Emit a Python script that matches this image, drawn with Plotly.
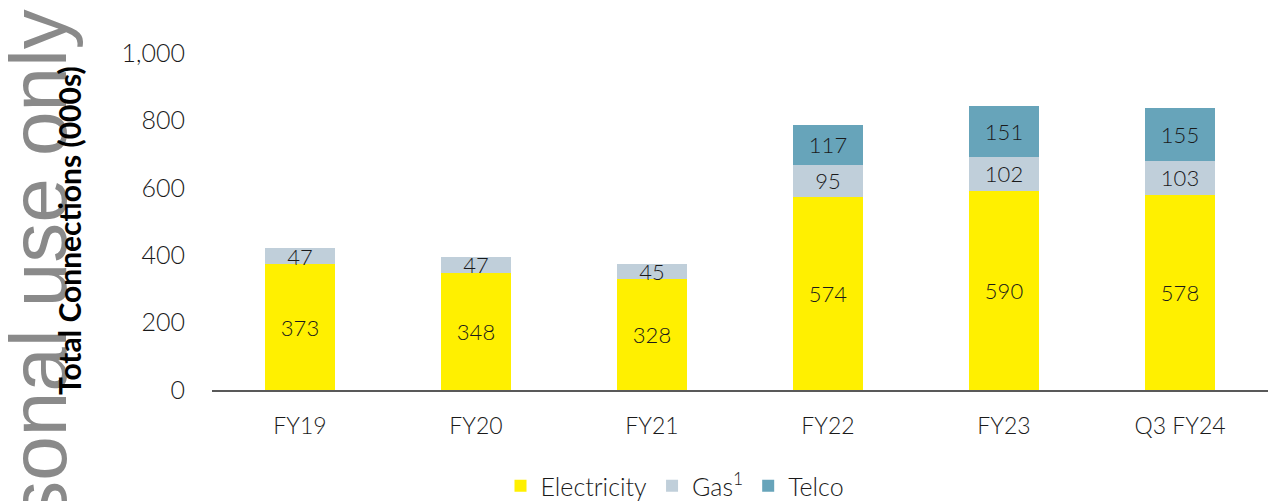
import plotly.graph_objects as go

# Connections by period (000s)
periods = ["FY19", "FY20", "FY21", "FY22", "FY23", "Q3 FY24"]
electricity = [373, 348, 328, 574, 590, 578]
gas = [47, 47, 45, 95, 102, 103]
telco = [None, None, None, 117, 151, 155]

y_ticks = [0, 200, 400, 600, 800, 1000]
y_tick_text = ["0", "200", "400", "600", "800", "1,000"]

FONT = "Lato"
label_font = dict(family=FONT, size=22, color="#1a1a1a", weight=300)

fig = go.Figure()

series = [
    ("Electricity", electricity, "#FFF000"),
    ("Gas<sup>1</sup>", gas, "#C0CFDA"),
    ("Telco", telco, "#67A4BA"),
]
for name, vals, color in series:
    fig.add_trace(go.Bar(
        name=name,
        x=periods,
        y=vals,
        marker=dict(color=color, line=dict(width=0)),
        text=[("" if v is None else str(v)) for v in vals],
        textposition="inside",
        insidetextanchor="middle",
        constraintext="none",
        textangle=0,
        textfont=label_font,
        width=0.4,
    ))

# Margin geometry (pixels) used to place side annotations
L, R, T, B = 212, 0, 53, 111
W, H = 1268, 501
pw = W - L - R
ph = H - T - B

def px_x(x):
    return (x - L) / pw

def px_y(y):
    return (H - B - y) / ph

fig.add_annotation(
    text="For personal use only",
    xref="paper", yref="paper",
    x=px_x(38), y=px_y(8),
    xanchor="center", yanchor="top",
    textangle=-90, showarrow=False,
    font=dict(family="Liberation Sans", size=80, color="#8a8a8a"),
)

fig.add_annotation(
    text="<b>Total Connections (000s)</b>",
    xref="paper", yref="paper",
    x=px_x(69), y=px_y(231),
    xanchor="center", yanchor="middle",
    textangle=-90, showarrow=False,
    font=dict(family=FONT, size=30, color="#000000"),
)

fig.update_layout(
    barmode="stack",
    width=W, height=H,
    margin=dict(l=L, r=R, t=T, b=B, autoexpand=False),
    paper_bgcolor="white",
    plot_bgcolor="white",
    font=dict(family=FONT, size=24, color="#1a1a1a"),
    showlegend=True,
    legend=dict(
        orientation="h",
        xref="container", yref="container",
        x=675 / W, y=1 - 486 / H,
        xanchor="center", yanchor="middle",
        font=dict(family=FONT, size=25, color="#1a1a1a", weight=300),
        traceorder="normal",
        tracegroupgap=0,
    ),
    xaxis=dict(
        showgrid=False,
        showline=True,
        linecolor="#595959",
        linewidth=2,
        ticks="",
        tickfont=dict(family=FONT, size=23, color="#1a1a1a", weight=300),
        ticklabelstandoff=14,
    ),
    yaxis=dict(
        range=[0, 1000],
        tickvals=y_ticks,
        ticktext=y_tick_text,
        showgrid=False,
        zeroline=False,
        showline=False,
        ticks="",
        tickfont=dict(family=FONT, size=25, color="#1a1a1a", weight=300),
        ticklabelstandoff=26,
    ),
)

fig.write_html("out.html")
